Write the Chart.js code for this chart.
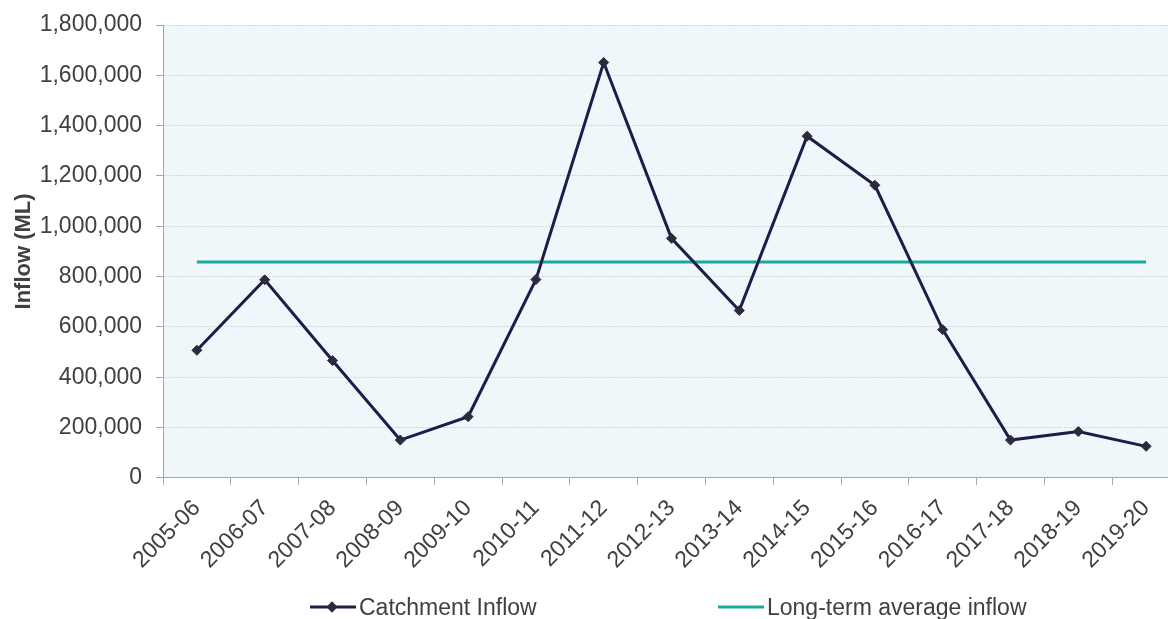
<!DOCTYPE html>
<html>
<head>
<meta charset="utf-8">
<script src="https://cdn.jsdelivr.net/npm/chart.js@4/dist/chart.umd.min.js"></script>
<style>
  html, body { margin: 0; padding: 0; background: #fff; overflow: hidden; }
  #wrap { position: relative; width: 1190px; height: 619px; }
  .legend { position: absolute; top: 594px; font-family: "Liberation Sans", Arial, sans-serif; font-size: 23px; color: #404040; white-space: nowrap; }
  .legend svg { vertical-align: middle; margin-right: 3px; position: relative; top: -2px; }
</style>
</head>
<body>
<div id="wrap">
  <canvas id="inflow" width="1190" height="619"></canvas>
  <div class="legend" style="left:310px">
    <svg width="46" height="12"><line x1="0" y1="6" x2="46" y2="6" stroke="#1e1d4a" stroke-width="3"/><rect x="18" y="2" width="8" height="8" fill="#2b2b3b" transform="rotate(45 22 6)"/></svg>Catchment Inflow
  </div>
  <div class="legend" style="left:718px">
    <svg width="46" height="12"><line x1="0" y1="6" x2="46" y2="6" stroke="#17aa9e" stroke-width="3"/></svg>Long-term average inflow
  </div>
</div>
<script>
const years = ['2005-06', '2006-07', '2007-08', '2008-09', '2009-10', '2010-11', '2011-12', '2012-13',
    '2013-14', '2014-15', '2015-16', '2016-17', '2017-18', '2018-19', '2019-20'];
const catchmentInflow = [507000, 787000, 466000, 150000, 243000, 788000, 1651000, 952000,
    665000, 1358000, 1163000, 589000, 150000, 184000, 125000];
const averageInflow = [858000, 858000, 858000, 858000, 858000, 858000, 858000, 858000,
    858000, 858000, 858000, 858000, 858000, 858000, 858000];
const yTicks = [0, 200000, 400000, 600000, 800000, 1000000, 1200000, 1400000, 1600000, 1800000];

const font = { family: '"Liberation Sans", Arial, sans-serif', size: 23 };

// light blue fill behind the plot area
const plotBackground = {
    id: 'plotBackground',
    beforeDraw(chart) {
        const a = chart.chartArea;
        const ctx = chart.ctx;
        ctx.save();
        ctx.fillStyle = '#eff7fb';
        ctx.fillRect(a.left, a.top, a.right - a.left, a.bottom - a.top);
        ctx.restore();
    }
};

const ctx = document.getElementById('inflow');
new Chart(ctx, {
    type: 'line',
    data: {
        labels: years,
        datasets: [{
            label: 'Catchment Inflow',
            data: catchmentInflow,
            borderColor: '#1e1d4a',
            borderWidth: 3,
            pointStyle: 'rectRot',
            pointRadius: 5,
            pointBackgroundColor: '#2b2b3b',
            pointBorderColor: '#2b2b3b',
            pointBorderWidth: 1,
            tension: 0,
            order: 1
        }, {
            label: 'Long-term average inflow',
            data: averageInflow,
            borderColor: '#17aa9e',
            borderWidth: 3,
            pointRadius: 0,
            tension: 0,
            order: 2
        }]
    },
    options: {
        responsive: false,
        animation: false,
        layout: { padding: { left: 6, right: 10, top: 0, bottom: 35 } },
        plugins: {
            legend: { display: false },
            tooltip: { enabled: false }
        },
        scales: {
            x: {
                offset: true,
                grid: { offset: true, drawOnChartArea: false, tickLength: 7, tickColor: '#a6a6a6' },
                border: { color: '#a6a6a6', width: 1 },
                ticks: {
                    autoSkip: false,
                    maxRotation: 45,
                    minRotation: 45,
                    padding: 10,
                    color: '#404040',
                    font: font
                }
            },
            y: {
                min: 0,
                max: 1800000,
                afterBuildTicks(scale) {
                    scale.ticks = yTicks.map(v => ({ value: v }));
                },
                // fixed width so the tick labels sit close to the title, and a fixed top gap
                afterFit(scale) {
                    scale.width = 157;
                    scale.paddingTop = 25;
                },
                grid: { color: '#d4d8da', tickLength: 7, tickColor: '#a6a6a6' },
                border: { color: '#a6a6a6', width: 1, dash: [2, 1] },
                ticks: {
                    padding: 14,
                    color: '#404040',
                    font: font,
                    callback: v => v.toLocaleString('en-US')
                },
                title: {
                    display: true,
                    text: 'Inflow (ML)',
                    color: '#404040',
                    font: { family: font.family, size: 22, weight: 'bold' },
                    padding: { top: 5, bottom: 2 }
                }
            }
        }
    },
    plugins: [plotBackground]
});
</script>
</body>
</html>
